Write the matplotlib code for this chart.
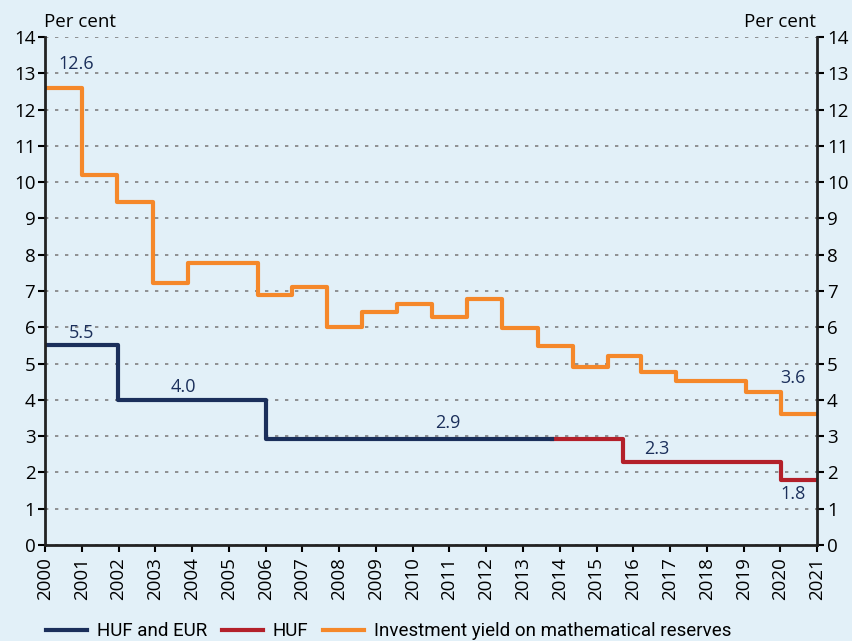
import matplotlib
matplotlib.use("Agg")
import matplotlib.pyplot as plt
from matplotlib.lines import Line2D

# step data: time of change (fractional year) and value from that point on
yield_t = [2000.0, 2001.0, 2001.97, 2002.93, 2003.9, 2005.8, 2006.72, 2007.68,
           2008.62, 2009.58, 2010.52, 2011.48, 2012.42, 2013.4, 2014.35,
           2015.3, 2016.2, 2017.17, 2019.07, 2020.02, 2021.0]
yield_v = [12.6, 10.2, 9.45, 7.22, 7.78, 6.9, 7.1, 6.02, 6.42, 6.65, 6.28,
           6.78, 5.97, 5.47, 4.9, 5.22, 4.77, 4.52, 4.22, 3.62, 3.62]

hufeur_t = [2000.0, 2001.98, 2006.0, 2013.8]
hufeur_v = [5.5, 4.0, 2.93, 2.93]

huf_t = [2013.8, 2015.73, 2020.01, 2021.0]
huf_v = [2.93, 2.3, 1.8, 1.8]

labels = ["12.6", "5.5", "4.0", "2.9", "2.3", "3.6", "1.8"]
label_x = [2000.85, 2001.0, 2003.75, 2010.95, 2016.65, 2020.35, 2020.35]
label_y = [13.0, 5.6, 4.1, 3.1, 2.4, 4.35, 1.15]

years = list(range(2000, 2022))

bg = "#e2f0f8"
navy = "#1b2f5b"
red = "#b3202a"
orange = "#f5882a"

plt.rcParams['font.family'] = ['Open Sans', 'DejaVu Sans']

fig = plt.figure(figsize=(8.53, 6.41), dpi=100, facecolor=bg)
ax = fig.add_axes([0.0528, 0.1498, 0.9052, 0.7925], facecolor=bg)

ax.plot(yield_t, yield_v, drawstyle="steps-post", color=orange, lw=3)
ax.plot(huf_t, huf_v, drawstyle="steps-post", color=red, lw=3)
ax.plot(hufeur_t, hufeur_v, drawstyle="steps-post", color=navy, lw=3)

for s, x, y in zip(labels, label_x, label_y):
    ax.text(x, y, s, color=navy, fontsize=13, ha="center", va="bottom")

ax.set_xlim(2000, 2021)
ax.set_ylim(0, 14)
ax.set_yticks(range(0, 15))
ax.set_xticks(years)
ax.set_xticklabels([str(y) for y in years], rotation=90, fontsize=13.5)
ax.tick_params(axis="y", labelsize=13.5, direction="out", length=5, width=1.5,
               left=True, right=True, labelleft=True, labelright=True, pad=2)
ax.tick_params(axis="x", direction="out", length=5, width=1.5, pad=4)
ax.grid(axis="y", linestyle=(0, (2, 4)), color="#808080", lw=1.2)
ax.set_axisbelow(True)

ax.spines["top"].set_visible(False)
for side in ["left", "right", "bottom"]:
    ax.spines[side].set_linewidth(2)
    ax.spines[side].set_color("#222222")

fig.text(0.052, 0.966, "Per cent", fontsize=13.5, ha="left", va="center")
fig.text(0.957, 0.966, "Per cent", fontsize=13.5, ha="right", va="center")

handles = [Line2D([], [], color=navy, lw=3),
           Line2D([], [], color=red, lw=3),
           Line2D([], [], color=orange, lw=3)]
fig.legend(handles, ["HUF and EUR", "HUF", "Investment yield on mathematical reserves"],
           loc="lower left", bbox_to_anchor=(0.034, -0.025), ncol=3, frameon=False,
           handlelength=2.2, columnspacing=0.8, handletextpad=0.5,
           prop={'family': ['Roboto', 'DejaVu Sans'], 'size': 13.5})

fig.savefig("out.png", dpi=100, facecolor=bg)
